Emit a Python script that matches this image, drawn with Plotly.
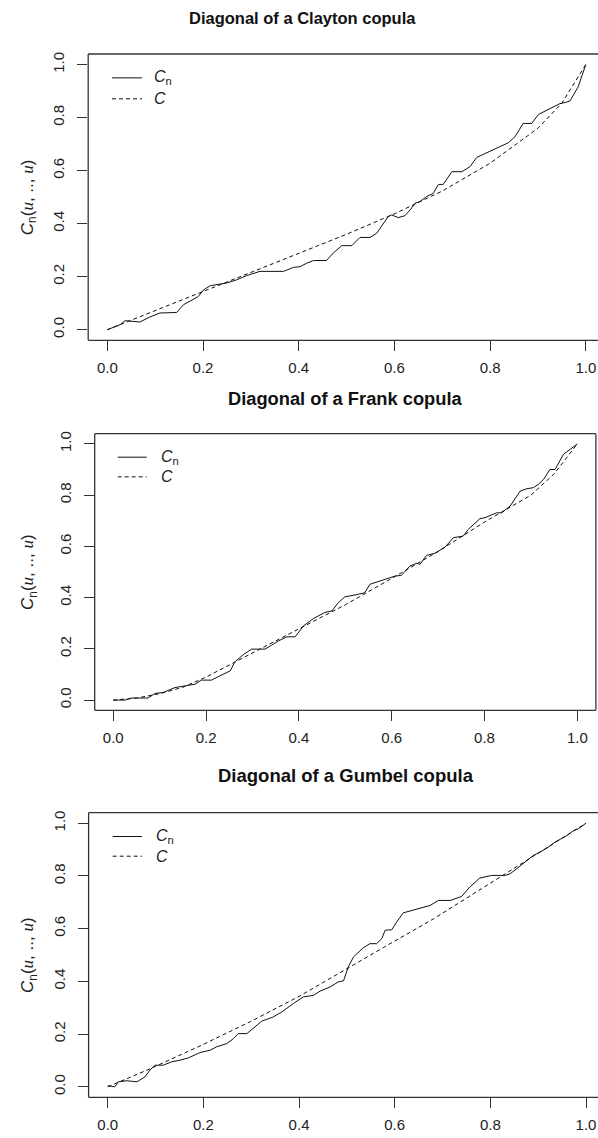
import plotly.graph_objects as go

W, H = 598, 1138

# ---------------- data ----------------
clayton_u = [0.000, 0.027, 0.037, 0.068, 0.089, 0.110, 0.145, 0.159, 0.190, 0.201, 0.215, 0.229,
             0.249, 0.270, 0.291, 0.319, 0.368, 0.389, 0.403, 0.417, 0.431, 0.458, 0.472, 0.490,
             0.511, 0.528, 0.549, 0.563, 0.573, 0.587, 0.594, 0.608, 0.622, 0.633, 0.643, 0.653,
             0.667, 0.681, 0.692, 0.702, 0.720, 0.741, 0.758, 0.772, 0.838, 0.852, 0.869, 0.887,
             0.901, 0.932, 0.946, 0.957, 0.967, 0.984, 1.000]
clayton_cn = [0.000, 0.019, 0.034, 0.029, 0.048, 0.063, 0.065, 0.094, 0.125, 0.150, 0.166, 0.169,
              0.176, 0.188, 0.204, 0.220, 0.220, 0.235, 0.238, 0.251, 0.261, 0.261, 0.289, 0.317,
              0.317, 0.348, 0.348, 0.364, 0.389, 0.427, 0.433, 0.423, 0.430, 0.452, 0.477, 0.483,
              0.502, 0.514, 0.548, 0.548, 0.596, 0.596, 0.615, 0.650, 0.705, 0.728, 0.778, 0.778,
              0.812, 0.841, 0.853, 0.857, 0.863, 0.916, 1.000]
clayton_cu = [0.0, 0.1, 0.2, 0.3, 0.4, 0.5, 0.6, 0.7, 0.8, 0.9, 0.95, 1.0]
clayton_c = [0.0, 0.072, 0.145, 0.215, 0.287, 0.360, 0.437, 0.523, 0.628, 0.760, 0.855, 1.0]

frank_u = [0.000, 0.025, 0.040, 0.075, 0.090, 0.108, 0.133, 0.155, 0.176, 0.190, 0.212, 0.230,
           0.252, 0.262, 0.280, 0.298, 0.327, 0.341, 0.356, 0.374, 0.392, 0.410, 0.431, 0.456,
           0.471, 0.485, 0.499, 0.528, 0.542, 0.553, 0.564, 0.586, 0.607, 0.621, 0.639, 0.654,
           0.661, 0.675, 0.693, 0.715, 0.733, 0.754, 0.765, 0.790, 0.801, 0.826, 0.837, 0.855,
           0.877, 0.891, 0.905, 0.916, 0.927, 0.941, 0.952, 0.970, 1.000]
frank_cn = [0.000, 0.000, 0.008, 0.008, 0.026, 0.030, 0.049, 0.056, 0.062, 0.078, 0.078, 0.095,
            0.114, 0.149, 0.177, 0.199, 0.199, 0.214, 0.231, 0.247, 0.247, 0.290, 0.318, 0.342,
            0.348, 0.380, 0.403, 0.413, 0.419, 0.452, 0.458, 0.471, 0.484, 0.487, 0.523, 0.534,
            0.530, 0.565, 0.573, 0.597, 0.634, 0.640, 0.666, 0.708, 0.712, 0.731, 0.731, 0.757,
            0.816, 0.825, 0.829, 0.842, 0.861, 0.900, 0.900, 0.959, 1.000]
frank_cu = [0.0, 0.05, 0.1, 0.15, 0.2, 0.3, 0.4, 0.5, 0.6, 0.7, 0.8, 0.9, 0.95, 1.0]
frank_c = [0.0, 0.008, 0.025, 0.050, 0.090, 0.185, 0.278, 0.372, 0.475, 0.580, 0.695, 0.800, 0.883, 1.0]

gumbel_u = [0.000, 0.015, 0.022, 0.040, 0.061, 0.078, 0.088, 0.099, 0.116, 0.134, 0.151, 0.169,
            0.193, 0.214, 0.228, 0.249, 0.263, 0.273, 0.291, 0.304, 0.322, 0.346, 0.364, 0.388,
            0.409, 0.430, 0.444, 0.465, 0.482, 0.493, 0.503, 0.514, 0.534, 0.548, 0.562, 0.573,
            0.580, 0.594, 0.604, 0.618, 0.632, 0.653, 0.674, 0.691, 0.716, 0.740, 0.757, 0.778,
            0.803, 0.831, 0.841, 0.855, 0.872, 0.890, 0.904, 0.921, 0.935, 0.949, 0.960, 0.974,
            0.984, 1.000]
gumbel_cn = [0.004, 0.000, 0.019, 0.023, 0.019, 0.038, 0.063, 0.082, 0.082, 0.095, 0.101, 0.110,
             0.130, 0.139, 0.152, 0.164, 0.183, 0.202, 0.202, 0.221, 0.249, 0.265, 0.284, 0.316,
             0.341, 0.347, 0.363, 0.379, 0.398, 0.402, 0.455, 0.493, 0.527, 0.543, 0.543, 0.562,
             0.594, 0.596, 0.625, 0.660, 0.667, 0.676, 0.688, 0.707, 0.707, 0.722, 0.758, 0.792,
             0.802, 0.802, 0.808, 0.827, 0.852, 0.878, 0.890, 0.909, 0.928, 0.941, 0.953, 0.972,
             0.979, 1.000]
gumbel_cu = [0.0, 0.088, 0.193, 0.298, 0.402, 0.496, 0.576, 0.681, 0.750, 0.831, 0.890, 1.0]
gumbel_c = [0.0, 0.068, 0.155, 0.247, 0.345, 0.445, 0.528, 0.637, 0.715, 0.805, 0.875, 1.0]

tick_vals = [0.0, 0.2, 0.4, 0.6, 0.8, 1.0]
tick_text = ["0.0", "0.2", "0.4", "0.6", "0.8", "1.0"]

titles = ["Diagonal of a Clayton copula", "Diagonal of a Frank copula", "Diagonal of a Gumbel copula"]
legend_labels = ["<i>C</i><sub>n</sub>", "<i>C</i>"]
ylab = ("<i>C</i><sub>n</sub>(<span style=\"font-family:'Liberation Serif',serif\"><i>u</i></span>, .., "
        "<span style=\"font-family:'Liberation Serif',serif\"><i>u</i></span>)")

series = [(clayton_u, clayton_cn, clayton_cu, clayton_c),
          (frank_u, frank_cn, frank_cu, frank_c),
          (gumbel_u, gumbel_cn, gumbel_cu, gumbel_c)]

# ---------------- layout geometry (pixels) ----------------
FONT = "Liberation Sans, Arial, sans-serif"
panels = [
    dict(xl=88.2, xr=598.0, xrange=[-0.04, 1.0255], yt=52.1, yb=338.9, right=False,
         title_x=302, title_y=16, title_size=16.5, leg_x0=112, leg_x1=142, leg_y=[76, 97], leg_tx=152),
    dict(xl=94.7, xr=595.9, xrange=[-0.04, 1.04], yt=432.4, yb=709.6, right=True,
         title_x=345, title_y=397, title_size=18.3, leg_x0=117.7, leg_x1=146.7, leg_y=[456, 475.7], leg_tx=159),
    dict(xl=88.6, xr=598.0, xrange=[-0.04, 1.0251], yt=812.1, yb=1097.3, right=False,
         title_x=346, title_y=775, title_size=18.5, leg_x0=112.7, leg_x1=142, leg_y=[836, 855.7], leg_tx=154),
]

def px(x):
    return x / W

def py(y):
    return 1 - y / H

fig = go.Figure()
shapes = []
annotations = []

for i, (p, (u, cn, cu, c)) in enumerate(zip(panels, series)):
    k = "" if i == 0 else str(i + 1)
    xa, ya = "x" + k, "y" + k
    fig.add_trace(go.Scatter(x=u, y=cn, mode="lines", xaxis=xa, yaxis=ya,
                             line=dict(color="#111", width=1), showlegend=False, hoverinfo="skip"))
    fig.add_trace(go.Scatter(x=cu, y=c, mode="lines", xaxis=xa, yaxis=ya,
                             line=dict(color="#111", width=1, dash="4px,3px"), showlegend=False,
                             hoverinfo="skip"))
    axis_common = dict(tickvals=tick_vals, ticktext=tick_text, ticks="outside", ticklen=10,
                       tickwidth=1, tickcolor="#333", showgrid=False, zeroline=False, showline=False,
                       tickfont=dict(family=FONT, size=15, color="#222"), fixedrange=True)
    fig.layout["xaxis" + k] = dict(axis_common, domain=[px(p["xl"]), px(p["xr"])], range=p["xrange"],
                                   anchor=ya, ticklabelstandoff=4)
    fig.layout["yaxis" + k] = dict(axis_common, domain=[py(p["yb"]), py(p["yt"])], range=[-0.04, 1.04],
                                   anchor=xa, tickangle=-90, ticklabelstandoff=7)
    # box (R style)
    xd, yd = xa + " domain", ya + " domain"
    box = [(0, 1, 1, 1), (0, 1, 0, 0), (0, 0, 0, 1)]
    if p["right"]:
        box.append((1, 1, 0, 1))
    for (x0, x1, y0, y1) in box:
        shapes.append(dict(type="line", xref=xd, yref=yd, x0=x0, x1=x1, y0=y0, y1=y1,
                           line=dict(color="#333", width=1.3)))
    # legend
    for j, dash in enumerate(["solid", "4px,3px"]):
        ly = p["leg_y"][j]
        shapes.append(dict(type="line", xref="paper", yref="paper", x0=px(p["leg_x0"]), x1=px(p["leg_x1"]),
                           y0=py(ly), y1=py(ly), line=dict(color="#111", width=1, dash=dash)))
        annotations.append(dict(xref="paper", yref="paper", x=px(p["leg_tx"]), y=py(ly), text=legend_labels[j],
                                showarrow=False, xanchor="left", yanchor="middle",
                                font=dict(family=FONT, size=16, color="#222")))
    # title
    annotations.append(dict(xref="paper", yref="paper", x=px(p["title_x"]), y=py(p["title_y"]),
                            text="<b>" + titles[i] + "</b>", showarrow=False, xanchor="center",
                            yanchor="middle", font=dict(family=FONT, size=p["title_size"], color="#111")))
    # y label
    annotations.append(dict(xref="paper", yref="paper", x=px(29), y=py((p["yt"] + p["yb"]) / 2),
                            text=ylab, showarrow=False, textangle=-90, xanchor="center", yanchor="middle",
                            font=dict(family=FONT, size=17, color="#222")))

fig.update_layout(width=W, height=H, margin=dict(l=0, r=0, t=0, b=0), paper_bgcolor="white",
                  plot_bgcolor="white", shapes=shapes, annotations=annotations, showlegend=False)

fig.write_html("out.html")
